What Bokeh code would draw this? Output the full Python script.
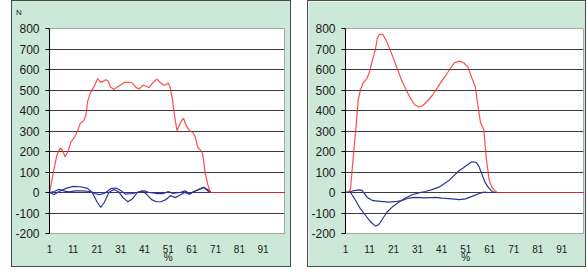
from bokeh.plotting import figure
from bokeh.layouts import row, column
from bokeh.models import Spacer, FixedTicker, Div
from bokeh.embed import file_html
from bokeh.resources import INLINE

# ---------------- data: left panel ----------------
left_red_x = [1, 2.7, 4.1, 5.5, 6.4, 7.6, 9, 10, 11.5, 12.9, 14, 15.4, 16.3, 17.1, 18.2, 19.4, 20.2,
              21.3, 22.5, 23.6, 24.6, 25.6, 26.7, 28.1, 29.5, 30.9, 32.6, 34.5, 35.9, 37.3, 38.7,
              40.5, 41.8, 42.9, 44.4, 46.2, 47.6, 49, 50.2, 51, 51.8, 52.8, 53.8, 54.7, 55.6, 56.6,
              57.5, 58.6, 59.9, 61.3, 62.3, 63.4, 64.6, 65.5, 66.5, 67.7, 68.8, 80, 100]
left_red_y = [0, 102, 182, 217, 206, 174, 206, 246, 270, 302, 339, 350, 374, 446, 486, 510, 526,
              556, 537, 542, 550, 545, 514, 502, 514, 524, 537, 537, 534, 514, 505,
              524, 518, 511, 534, 553, 537, 524, 526, 534, 514, 454, 366, 302, 326, 350,
              361, 326, 302, 294, 275, 222, 206, 190, 102, 38, 0, 0, 0]

left_blue1_x = [1, 3, 5, 8, 11, 14, 17, 19, 21, 22.5, 24, 26, 28, 30, 32, 34, 36, 38, 40, 42, 44,
                46, 48, 50, 52, 54, 56, 58, 60, 62, 64, 66, 67.5, 69, 100]
left_blue1_y = [0, -10, 5, 20, 30, 28, 20, 0, -45, -72, -50, 0, 15, 5, -25, -45, -30, 0, 8, -10, -35,
                -45, -45, -35, -15, -25, -12, 0, -8, 5, 15, 25, 15, 0, 0]

left_blue2_x = [1, 3, 5, 7, 9, 12, 15, 18, 20, 22, 24, 27, 29, 31, 33, 36, 39, 41, 43, 46, 49, 51,
                53, 56, 58, 60, 62, 64, 66, 68, 69, 100]
left_blue2_y = [0, 5, 15, 8, 3, 8, 8, 5, -5, -10, -5, 20, 22, 10, -8, -5, 3, 8, 0, -5, -5, 5,
                -5, 0, 8, -5, 5, 15, 25, 5, 0, 0]

left_blue3_x = [1, 69, 100]
left_blue3_y = [0, 0, 0]

# ---------------- data: right panel ----------------
right_red_x = [1, 2.4, 3.1, 4.5, 5.4, 6.3, 7.2, 8.3, 10, 11, 12.4, 13.5, 14.2, 15.1, 16.5, 17.9,
               19.3, 20.7, 22.5, 24.3, 25.9, 28, 29.8, 31.5, 33.1, 34.9, 37, 39.1, 40.9, 42.8,
               44.6, 46.4, 48.4, 50.2, 52, 53.6, 55, 56.1, 57.2, 58.5, 59.6, 60.8, 61.9, 63, 64,
               80, 100]
right_red_y = [0, 5, 18, 211, 324, 452, 500, 533, 557, 589, 654, 702, 750, 771, 771, 742,
               702, 662, 605, 549, 509, 460, 428, 417, 423, 444, 472, 509, 541, 573,
               605, 633, 641, 633, 610, 557, 517, 420, 340, 308, 163, 58, 26, 10, 0,
               0, 0]

right_blue1_x = [1, 3.1, 5.2, 7.2, 9.3, 11.4, 13.5, 14.9, 16.5, 18.3, 20.4, 23.2, 25.9, 28.7, 31.5,
                 34.2, 37, 39.8, 41.9, 44, 46.1, 48.2, 50.2, 52, 53.6, 55.3, 56.4, 57.5, 58.9,
                 60.3, 61.9, 63.3, 100]
right_blue1_y = [0, 0, -39, -79, -111, -143, -164, -156, -127, -95, -71, -47, -27, -11, -2,
                 5, 14, 26, 42, 58, 82, 106, 122, 138, 150, 147, 130, 98, 53,
                 26, 5, 0, 0]

right_blue2_x = [1, 3.1, 5.2, 6.8, 7.9, 10, 12.4, 15.5, 19, 22.5, 24.5, 27.3, 30.1, 34.2, 38.4,
                 41.2, 45.3, 48.4, 50.9, 53.6, 56.4, 58.5, 60.6, 100]
right_blue2_y = [0, 5, 10, 13, 10, -23, -40, -43, -47, -43, -39, -27, -24, -26, -24,
                 -27, -31, -35, -31, -19, -6, 2, 0, 0]

x_ticks = [1, 11, 21, 31, 41, 51, 61, 71, 81, 91]
x_axis_unit = "%"
x_tick_labels = {v: (f"{v}\n{x_axis_unit}" if v == 51 else str(v)) for v in x_ticks}
y_ticks = [-200, -100, 0, 100, 200, 300, 400, 500, 600, 700, 800]
y_tick_labels = {v: str(v) for v in y_ticks}
y_unit_label = "N"

PANEL_BG = "#cce8d8"
FRAME = "0 0 0 1px #4a4a4a"
RED = "#ff2020"
BLUE = "#2b3594"
FONT = "Liberation Sans"
H = 265
N_H = 16


def make_panel(width, height, bl, br, bt, bb, reds, blues, framed):
    kw = {"styles": {"box-shadow": FRAME}} if framed else {}
    p = figure(width=width, height=height, x_range=(1, 100), y_range=(-200, 800),
               output_backend="svg", toolbar_location=None,
               min_border_left=bl, min_border_right=br, min_border_top=bt, min_border_bottom=bb,
               border_fill_color=PANEL_BG, background_fill_color="white",
               outline_line_color="#a8a8a8", **kw)
    p.xaxis.ticker = FixedTicker(ticks=x_ticks)
    p.xaxis.major_label_overrides = x_tick_labels
    p.yaxis.ticker = FixedTicker(ticks=y_ticks)
    p.yaxis.major_label_overrides = y_tick_labels
    p.xgrid.grid_line_color = None
    p.ygrid.grid_line_color = "#3c3c3c"
    p.ygrid.grid_line_width = 1

    p.yaxis.axis_line_color = "black"
    p.yaxis.major_tick_line_color = "black"
    p.yaxis.major_tick_out = 4
    p.yaxis.major_tick_in = 0
    p.yaxis.minor_tick_line_color = None
    p.yaxis.major_label_text_font = FONT
    p.yaxis.major_label_text_font_size = "12px"
    p.yaxis.major_label_text_color = "#1a1a1a"
    p.yaxis.major_label_standoff = 6

    p.xaxis.axis_line_color = "#a8a8a8"
    p.xaxis.major_tick_line_color = None
    p.xaxis.minor_tick_line_color = None
    p.xaxis.major_label_text_font = FONT
    p.xaxis.major_label_text_font_size = "10px"
    p.xaxis.major_label_text_color = "#1a1a1a"
    p.xaxis.major_label_text_line_height = 0.8
    p.xaxis.major_label_standoff = 4

    for xs, ys in blues:
        p.line(xs, ys, line_color=BLUE, line_width=1.2)
    for xs, ys in reds:
        p.line(xs, ys, line_color=RED, line_width=1.2, line_alpha=0.8)
    return p


p1 = make_panel(278, H - N_H, 37, 6, 27 - N_H, 29,
                [(left_red_x, left_red_y)],
                [(left_blue3_x, left_blue3_y), (left_blue1_x, left_blue1_y), (left_blue2_x, left_blue2_y)],
                False)
n_div = Div(text=('<div style="position:absolute; left:4px; top:8px; font-family:\'Liberation Sans\';'
                  ' font-size:8px; line-height:8px; color:#1a1a1a;">' + y_unit_label + '</div>'),
            width=278, height=N_H, margin=0, styles={"background-color": PANEL_BG})
left_panel = column(n_div, p1, spacing=0, margin=0, width=278, height=H,
                    styles={"background-color": PANEL_BG, "box-shadow": FRAME})

p2 = make_panel(277, H, 36, 2, 27, 31,
                [(right_red_x, right_red_y)],
                [(right_blue1_x, right_blue1_y), (right_blue2_x, right_blue2_y)],
                True)

layout = column(Spacer(width=10, height=1),
                row(Spacer(width=12, height=10), left_panel, Spacer(width=18, height=10), p2,
                    align="start"))

open("out.html", "w").write(file_html(layout, INLINE))
